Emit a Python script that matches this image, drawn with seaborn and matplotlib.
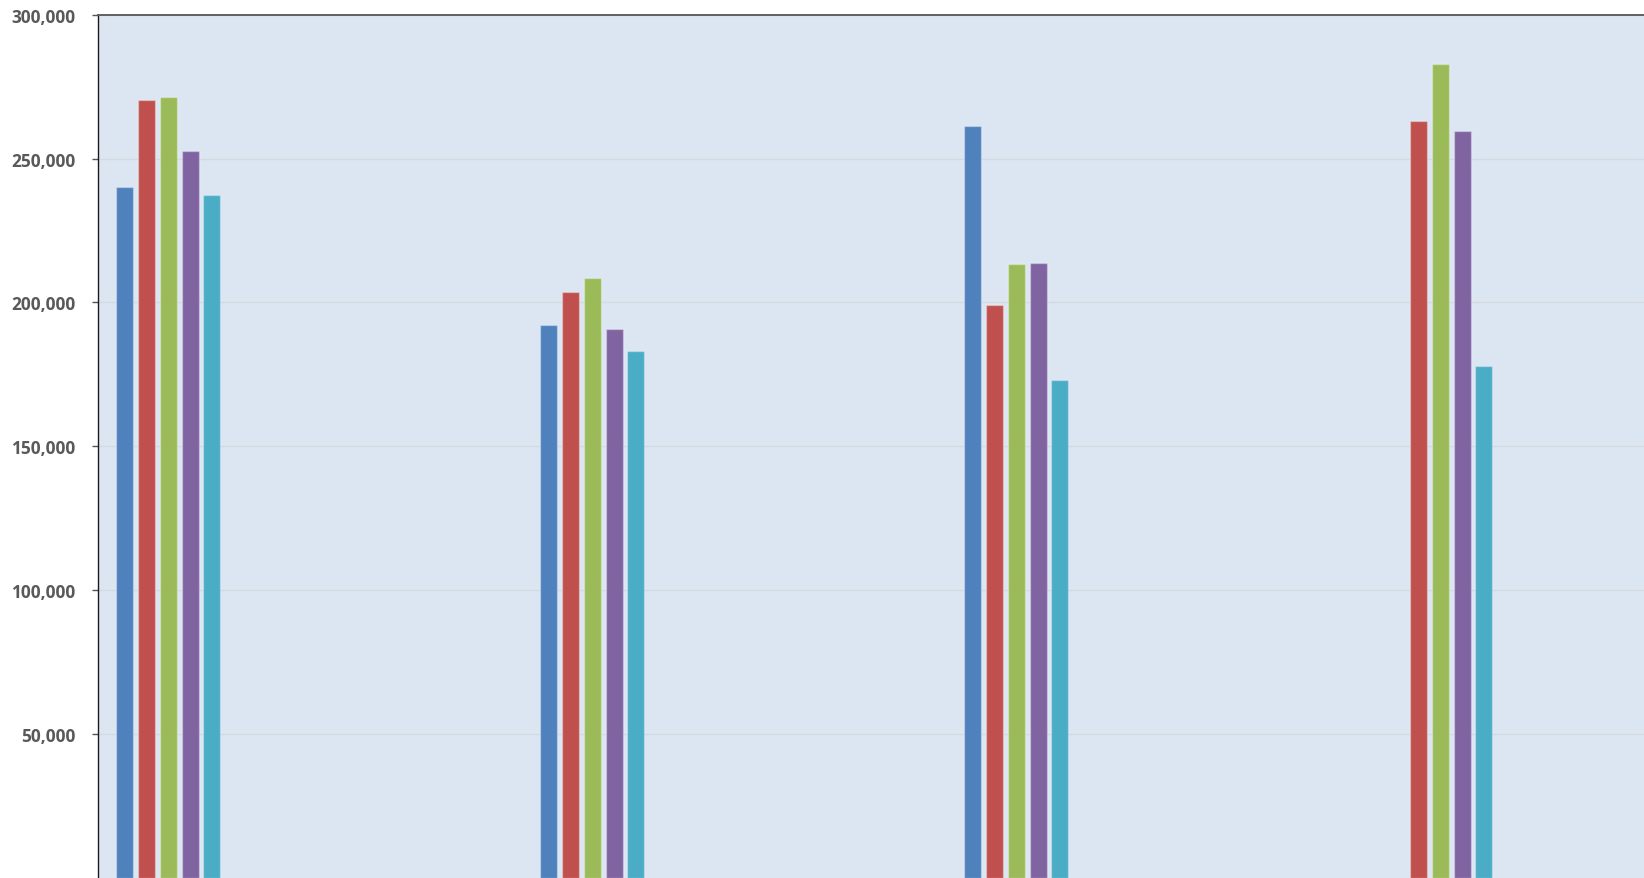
import numpy as np
import pandas as pd
import matplotlib
matplotlib.use("Agg")
import matplotlib.pyplot as plt
import seaborn as sns
from matplotlib.ticker import FuncFormatter

categories = ["Group 1", "Group 2", "Group 3", "Group 4"]
series_names = ["Series 1", "Series 2", "Series 3", "Series 4", "Series 5"]
series_1 = [240000, 192000, 261300, np.nan]
series_2 = [270200, 203700, 199200, 262900]
series_3 = [271300, 208500, 213300, 282900]
series_4 = [252800, 190900, 213800, 259500]
series_5 = [237200, 183300, 173100, 177900]
colors = ["#4F81BD", "#C0504D", "#9BBB59", "#8064A2", "#4BACC6"]
y_ticks = [50000, 100000, 150000, 200000, 250000, 300000]

rows = []
for name, vals in zip(series_names, [series_1, series_2, series_3, series_4, series_5]):
    for c, v in zip(categories, vals):
        rows.append({"category": c, "series": name, "value": v})
df = pd.DataFrame(rows)

sns.set_theme(style="white")
plt.rcParams["font.family"] = ["Open Sans", "DejaVu Sans"]

W, H = 1644, 879
fig = plt.figure(figsize=(W / 100, H / 100), dpi=100)
left_px, top_px = 97.7, 15.7
ax = fig.add_axes([left_px / W, 0.0, 1 - left_px / W, (H - top_px) / H])
ax.set_facecolor("#DCE6F2")

sns.barplot(data=df, x="category", y="value", hue="series",
            order=categories, hue_order=series_names, palette=colors,
            saturation=1, width=0.2565, gap=0.22, errorbar=None, legend=False,
            edgecolor=(1, 1, 1, 0.3), linewidth=1.0, ax=ax, zorder=3)

ax.set_ylim(0, 300000)
spacing_px = 424.0
ax.set_xlim(-70.6 / spacing_px, -70.6 / spacing_px + (W - left_px) / spacing_px)

ax.set_yticks(y_ticks)
ax.yaxis.set_major_formatter(FuncFormatter(lambda v, p: f"{int(v):,}"))
ax.tick_params(axis="y", which="major", direction="out", length=4.3, width=1,
               color="#555555", pad=12, labelsize=12.4, labelcolor="#595959", left=True)
for lab in ax.get_yticklabels():
    lab.set_fontweight("bold")
ax.set_xticks([])
ax.set_xlabel("")
ax.set_ylabel("")

ax.grid(axis="y", color="#D5D9E0", linewidth=1.0, zorder=0)
ax.set_axisbelow(True)

ax.spines["left"].set_color("#1a1a1a")
ax.spines["left"].set_linewidth(1.0)
ax.spines["top"].set_color("#606060")
ax.spines["top"].set_linewidth(1.4)
ax.spines["right"].set_visible(False)
ax.spines["bottom"].set_visible(False)

fig.savefig("out.png", dpi=100)
